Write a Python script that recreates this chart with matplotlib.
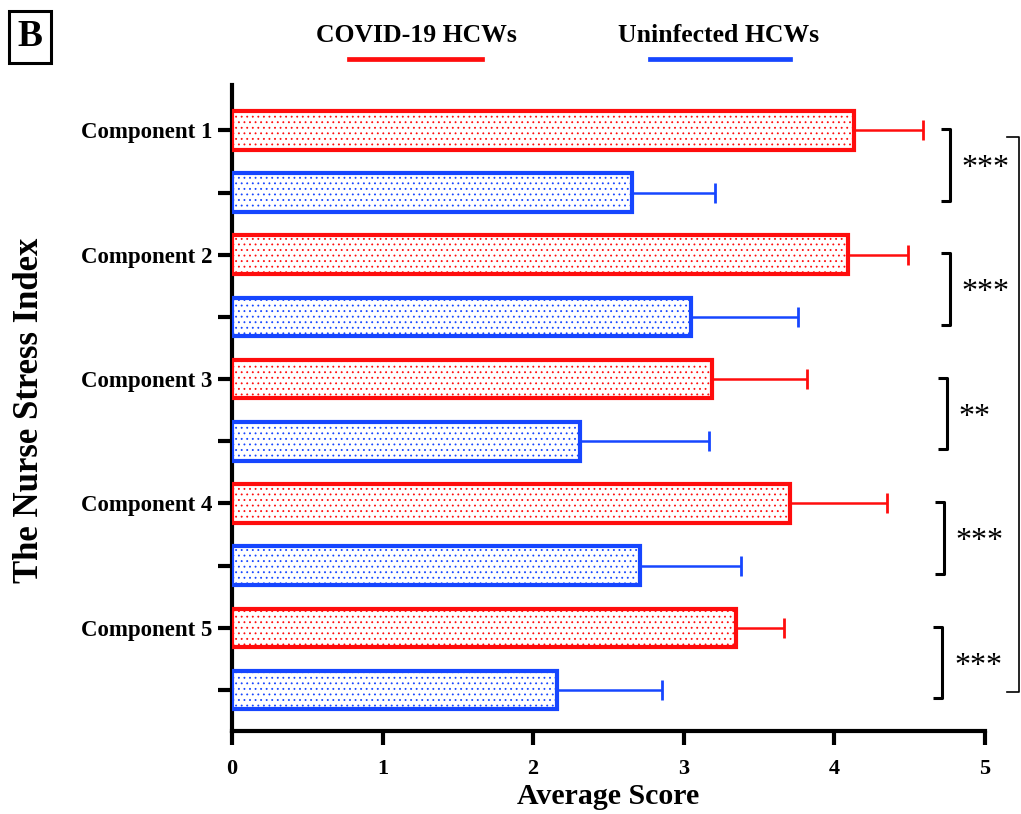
import numpy as np
import matplotlib
matplotlib.use("Agg")
import matplotlib.pyplot as plt
from matplotlib.lines import Line2D

plt.rcParams['font.family'] = ['Liberation Serif', 'DejaVu Serif']
plt.rcParams['hatch.linewidth'] = 0.6

# data
components = ["Component 1", "Component 2", "Component 3", "Component 4", "Component 5"]
covid_mean = [4.13, 4.09, 3.19, 3.71, 3.35]
covid_sd = [0.46, 0.40, 0.63, 0.64, 0.32]
uninf_mean = [2.66, 3.05, 2.31, 2.71, 2.16]
uninf_sd = [0.55, 0.71, 0.86, 0.67, 0.70]
stars = ["***", "***", "**", "***", "***"]
x_ticks = [0, 1, 2, 3, 4, 5]

red = "#ff0d0d"
blue = "#1646ff"

fig = plt.figure(figsize=(10.21, 8.14), dpi=100)
ax = fig.add_axes([232 / 1021, 83 / 814, 752.5 / 1021, 646 / 814])

n = len(components)
pos_red = np.arange(n) * 2
pos_blue = pos_red + 1
bar_h = 0.62

ax.barh(pos_red, covid_mean, height=bar_h, facecolor="white", edgecolor=red,
        linewidth=3, hatch="...", zorder=3)
ax.barh(pos_blue, uninf_mean, height=bar_h, facecolor="white", edgecolor=blue,
        linewidth=3, hatch="...", zorder=3)

# one-sided error bars (right side only)
ax.errorbar(covid_mean, pos_red, xerr=[np.zeros(n), covid_sd], fmt="none",
            ecolor=red, elinewidth=1.8, capsize=7, capthick=2, zorder=2)
ax.errorbar(uninf_mean, pos_blue, xerr=[np.zeros(n), uninf_sd], fmt="none",
            ecolor=blue, elinewidth=1.8, capsize=7, capthick=2, zorder=2)

ax.set_xlim(0, 5)
ax.set_ylim(9.66, -0.73)
ax.set_xticks(x_ticks)
ax.set_xticklabels([str(t) for t in x_ticks], fontsize=16, fontweight="bold")
ax.set_yticks(np.arange(2 * n))
ylabels = []
for c in components:
    ylabels += [c, ""]
ax.set_yticklabels(ylabels, fontsize=16.5, fontweight="bold")
ax.tick_params(axis="both", direction="out", length=10, width=3)
ax.tick_params(axis="x", pad=10)
ax.tick_params(axis="y", pad=4)

for s in ["top", "right"]:
    ax.spines[s].set_visible(False)
for s in ["left", "bottom"]:
    ax.spines[s].set_linewidth(3)

# significance brackets
br_x = [4.77, 4.77, 4.75, 4.73, 4.72]
for i in range(n):
    y0 = pos_red[i] - 0.02
    y1 = pos_blue[i] + 0.13
    bx = br_x[i]
    ax.plot([bx - 0.06, bx, bx, bx - 0.06], [y0, y0, y1, y1], color="black",
            lw=2.2, clip_on=False, solid_capstyle="butt")
    ax.text(bx + 0.08, (y0 + y1) / 2 + 0.06, stars[i], fontsize=23,
            ha="left", va="center", clip_on=False)

# overall bracket
ax.plot([5.15, 5.23, 5.23, 5.15], [0.1, 0.1, 9.03, 9.03], color="black",
        lw=1.2, clip_on=False)

# axis titles
fig.text(30 / 1021, 1 - 410 / 814, "The Nurse Stress Index", rotation=90,
         fontsize=25, fontweight="bold", ha="center", va="center")
fig.text(608 / 1021, 1 - 797 / 814, "Average Score", fontsize=21.5,
         fontweight="bold", ha="center", va="center")

# legend drawn manually
fig.text(416 / 1021, 1 - 36 / 814, "COVID-19 HCWs", fontsize=18.5,
         fontweight="bold", ha="center", va="center")
fig.add_artist(Line2D([349 / 1021, 482 / 1021], [1 - 59 / 814, 1 - 59 / 814],
                      color=red, lw=3.4, transform=fig.transFigure))
fig.text(719 / 1021, 1 - 36 / 814, "Uninfected HCWs", fontsize=18.5,
         fontweight="bold", ha="center", va="center")
fig.add_artist(Line2D([650 / 1021, 790 / 1021], [1 - 59 / 814, 1 - 59 / 814],
                      color=blue, lw=3.4, transform=fig.transFigure))

# panel letter
fig.text(30 / 1021, 1 - 37 / 814, "B", fontsize=27, fontweight="bold",
         ha="center", va="center",
         bbox=dict(boxstyle="square,pad=0.22", facecolor="white",
                   edgecolor="black", linewidth=2.2))

fig.savefig("out.png", dpi=100)
